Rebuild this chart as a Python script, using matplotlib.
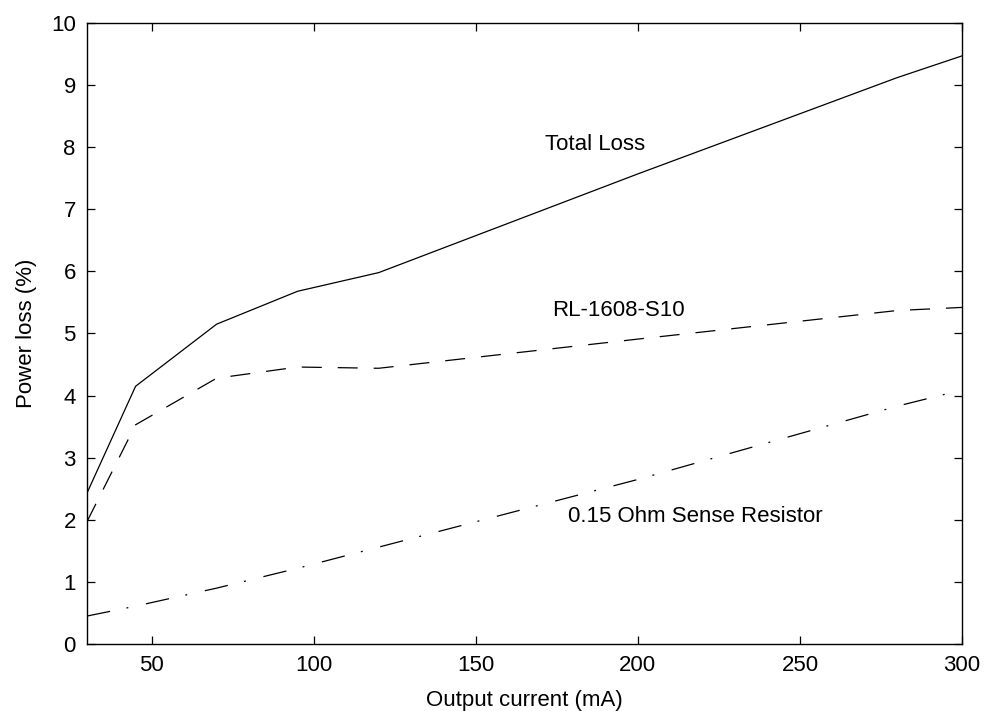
import matplotlib
matplotlib.use("Agg")
import matplotlib.pyplot as plt

# Output current (mA)
current = [30, 45, 70, 95, 120, 200, 280, 300]

# Power loss (%)
total_loss = [2.43, 4.15, 5.15, 5.68, 5.98, 7.57, 9.12, 9.47]
inductor_loss = [1.97, 3.53, 4.28, 4.46, 4.44, 4.91, 5.37, 5.42]
resistor_loss = [0.45, 0.61, 0.90, 1.22, 1.56, 2.65, 3.83, 4.09]

plt.rcParams['font.family'] = ['Liberation Sans', 'DejaVu Sans']
plt.rcParams['lines.scale_dashes'] = False

fig = plt.figure(figsize=(9.87, 7.11), dpi=100)
ax = fig.add_axes([0.0881, 0.0942, 0.8866, 0.8735])

ax.plot(current, total_loss, color='black', lw=0.9, linestyle='-')
ax.plot(current, inductor_loss, color='black', lw=0.9, linestyle=(0, (14.4, 11.5)))
ax.plot(current, resistor_loss, color='black', lw=0.9, linestyle=(0, (17, 12, 1.4, 13)))

# Curve labels
ax.text(186.7, 8.04, 'Total Loss', fontsize=16, ha='center', va='center')
ax.text(194, 5.37, 'RL-1608-S10', fontsize=16, ha='center', va='center')
ax.text(217.6, 2.05, '0.15 Ohm Sense Resistor', fontsize=16, ha='center', va='center')

ax.set_xlim(30, 300)
ax.set_ylim(0, 10)
ax.set_xticks([50, 100, 150, 200, 250, 300])
ax.set_yticks(range(0, 11))
ax.tick_params(direction='in', length=6, width=0.9, top=True, right=True,
               labelsize=16, pad=8)
for spine in ax.spines.values():
    spine.set_linewidth(1.0)

ax.set_xlabel('Output current (mA)', fontsize=16, labelpad=10)
ax.set_ylabel('Power loss (%)', fontsize=16, labelpad=10)

fig.savefig('out.png', dpi=100)
